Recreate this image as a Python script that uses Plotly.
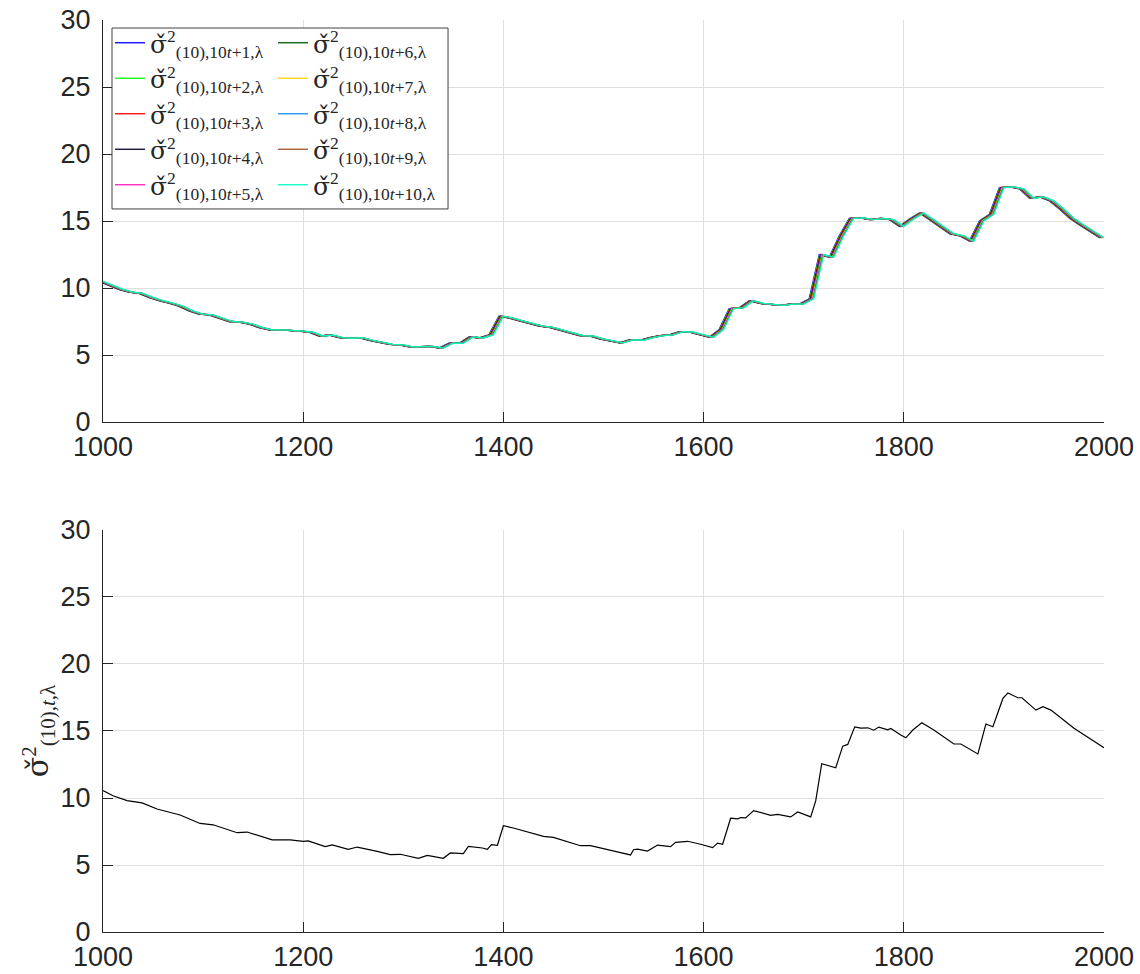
import plotly.graph_objects as go
from plotly.subplots import make_subplots

# ---------------- data ----------------
# top panel: one reading every 10 steps
top_x = list(range(1000, 2001, 10))
top_vals = [
    10.50, 10.17, 9.90, 9.70, 9.60, 9.30, 9.05, 8.88, 8.65, 8.30,
    8.05, 8.00, 7.75, 7.50, 7.45, 7.30, 7.05, 6.87, 6.87, 6.85,
    6.78, 6.70, 6.42, 6.48, 6.30, 6.25, 6.30, 6.10, 5.95, 5.80,
    5.75, 5.60, 5.62, 5.65, 5.52, 5.88, 5.87, 6.35, 6.27, 6.50,
    7.90, 7.76, 7.55, 7.36, 7.15, 7.06, 6.85, 6.60, 6.44, 6.42,
    6.20, 6.05, 5.90, 6.12, 6.10, 6.30, 6.45, 6.50, 6.75, 6.70,
    6.50, 6.32, 6.90, 8.47, 8.52, 9.06, 8.85, 8.75, 8.70, 8.80,
    8.80, 9.20, 12.50, 12.30, 13.90, 15.20, 15.23, 15.10, 15.20, 15.10,
    14.60, 15.15, 15.60, 15.10, 14.60, 14.05, 13.90, 13.50, 15.00, 15.50,
    17.50, 17.55, 17.40, 16.70, 16.80, 16.50, 15.90, 15.20, 14.70, 14.20,
    13.75,
]
series_k = [1, 2, 3, 4, 5, 6, 7, 8, 9, 10]
series_lag = [4.5, 4.0, 3.5, 3.0, 2.5, 2.0, 1.5, 1.0, 0.5, 0.0]
series_colors = ["#0000ff", "#00ff00", "#ff0000", "#00002c", "#ff1ab9",
                 "#005700", "#ffd400", "#1a8cf0", "#a3502c", "#00ffc0"]

# bottom panel
bottom_t = [1000, 1010, 1024, 1039, 1054, 1067, 1077, 1097, 1110, 1134, 1144, 1169, 1187,
            1200, 1205, 1222, 1229, 1245, 1254, 1274, 1287, 1297, 1315, 1324, 1340, 1347,
            1360, 1365, 1379, 1384, 1388, 1394, 1399, 1400, 1410, 1422, 1430, 1440, 1450,
            1464, 1477, 1487, 1504, 1517, 1527, 1530, 1534, 1544, 1554, 1567, 1572, 1584,
            1597, 1609, 1614, 1619, 1627, 1634, 1637, 1642, 1650, 1667, 1674, 1687, 1694,
            1707, 1712, 1718, 1732, 1739, 1744, 1751, 1757, 1764, 1770, 1775, 1784, 1787,
            1797, 1802, 1809, 1818, 1830, 1850, 1857, 1874, 1882, 1889, 1899, 1904, 1914,
            1918, 1932, 1939, 1947, 1970, 2000]
bottom_vals = [10.55, 10.17, 9.80, 9.63, 9.18, 8.93, 8.73, 8.10, 8.00, 7.41, 7.46, 6.87, 6.87,
               6.77, 6.80, 6.37, 6.50, 6.17, 6.34, 6.02, 5.77, 5.80, 5.50, 5.72, 5.50, 5.90,
               5.85, 6.39, 6.27, 6.17, 6.52, 6.47, 7.86, 7.93, 7.76, 7.49, 7.36, 7.14, 7.06,
               6.72, 6.44, 6.44, 6.12, 5.92, 5.75, 6.14, 6.19, 6.04, 6.49, 6.37, 6.69, 6.77,
               6.55, 6.30, 6.63, 6.55, 8.49, 8.44, 8.54, 8.51, 9.06, 8.71, 8.78, 8.59, 8.96,
               8.59, 9.78, 12.56, 12.26, 13.87, 14.00, 15.31, 15.21, 15.24, 15.06, 15.29, 15.09,
               15.19, 14.70, 14.49, 15.07, 15.62, 15.07, 14.03, 14.03, 13.29, 15.52, 15.32, 17.43,
               17.83, 17.48, 17.48, 16.56, 16.81, 16.56, 15.20, 13.75]

x_ticks = [1000, 1200, 1400, 1600, 1800, 2000]
y_ticks = [0, 5, 10, 15, 20, 25, 30]

# ---------------- figure ----------------
TXT = "#262626"
GRID = "#dfdfdf"
SIG = "<span style='font-family:DejaVu Serif'>σ̌</span>"

fig = make_subplots(rows=2, cols=1, vertical_spacing=0.1184)

for i, k in enumerate(series_k):
    xs = [x - series_lag[i] for x in top_x]
    fig.add_trace(go.Scatter(
        x=xs, y=top_vals, mode="lines",
        line=dict(color=series_colors[i], width=1.3),
        name=SIG + "<sup>2</sup><sub>(10),10<i>t</i>+%d,λ</sub>" % k,
        legend="legend" if k <= 5 else "legend2",
    ), row=1, col=1)

fig.add_trace(go.Scatter(
    x=bottom_t, y=bottom_vals, mode="lines",
    line=dict(color="#000000", width=1.2), showlegend=False,
), row=2, col=1)

axis_common = dict(
    showline=True, linecolor=TXT, linewidth=1.2, mirror=False,
    ticks="inside", ticklen=10, tickwidth=1.2, tickcolor=TXT,
    showgrid=True, gridcolor=GRID, gridwidth=1, zeroline=False,
    automargin=False,
    tickfont=dict(family="Liberation Sans, Arial", size=27, color=TXT),
)
for r in (1, 2):
    fig.update_xaxes(range=[1000, 2000], tickvals=x_ticks, row=r, col=1, **axis_common)
    fig.update_yaxes(range=[0, 30], tickvals=y_ticks, row=r, col=1,
                     ticklabelstandoff=6, **axis_common)

fig.update_yaxes(
    title=dict(text=SIG + "<sup>2</sup><sub>(10),<i>t</i>,λ</sub>",
               font=dict(family="Liberation Serif, serif", size=30, color=TXT),
               standoff=2),
    row=2, col=1)

leg_font = dict(family="Liberation Serif, serif", size=25, color=TXT)
fig.update_layout(
    width=1140, height=974,
    margin=dict(l=103, r=36, t=20, b=42, autoexpand=False),
    paper_bgcolor="white", plot_bgcolor="white",
    showlegend=True,
    legend=dict(x=0.007, y=1.0, xanchor="left", yanchor="top",
                bgcolor="rgba(0,0,0,0)", borderwidth=0, font=leg_font,
                tracegroupgap=0, traceorder="normal"),
    legend2=dict(x=0.1698, y=1.0, xanchor="left", yanchor="top",
                 bgcolor="rgba(0,0,0,0)", borderwidth=0, font=leg_font,
                 tracegroupgap=0, traceorder="normal"),
    shapes=[dict(type="rect", xref="paper", yref="paper",
                 x0=0.009, x1=0.3447, y0=0.7928, y1=0.9912,
                 fillcolor="white", line=dict(color="#404040", width=1),
                 layer="above")],
)

fig.write_html("out.html")
